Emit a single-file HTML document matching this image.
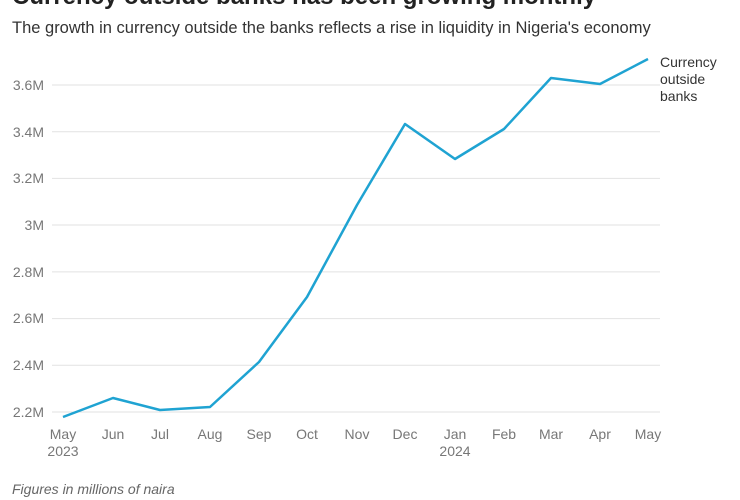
<!DOCTYPE html>
<html><head><style>
body{margin:0;width:740px;height:500px;background:#fff;overflow:hidden;font-family:"Liberation Sans",sans-serif;position:relative}
.t{position:absolute;left:12px;top:-17px;font-size:24px;font-weight:bold;color:#222;white-space:nowrap}
.s{position:absolute;left:12px;top:19px;font-size:16.5px;color:#333;white-space:nowrap}
.f{position:absolute;left:12px;top:481px;font-size:14px;font-style:italic;color:#666}
</style></head><body>
<div class="t">Currency outside banks has been growing monthly</div>
<div class="s">The growth in currency outside the banks reflects a rise in liquidity in Nigeria's economy</div>
<svg width="740" height="500" style="position:absolute;left:0;top:0" font-family="Liberation Sans, sans-serif" font-size="14" fill="#777">
<g stroke="#e2e2e2" stroke-width="1">
<line x1="52" x2="660" y1="85" y2="85"/><line x1="52" x2="660" y1="131.7" y2="131.7"/><line x1="52" x2="660" y1="178.4" y2="178.4"/><line x1="52" x2="660" y1="225" y2="225"/><line x1="52" x2="660" y1="271.9" y2="271.9"/><line x1="52" x2="660" y1="318.6" y2="318.6"/><line x1="52" x2="660" y1="365.3" y2="365.3"/><line x1="52" x2="660" y1="412" y2="412"/>
</g>
<g text-anchor="end">
<text x="44" y="90">3.6M</text><text x="44" y="137">3.4M</text><text x="44" y="183">3.2M</text><text x="44" y="230">3M</text><text x="44" y="277">2.8M</text><text x="44" y="323">2.6M</text><text x="44" y="370">2.4M</text><text x="44" y="417">2.2M</text>
</g>
<g text-anchor="middle">
<text x="63" y="439">May</text><text x="63" y="456">2023</text><text x="113" y="439">Jun</text><text x="160" y="439">Jul</text><text x="210" y="439">Aug</text><text x="259" y="439">Sep</text><text x="307" y="439">Oct</text><text x="357" y="439">Nov</text><text x="405" y="439">Dec</text><text x="455" y="439">Jan</text><text x="455" y="456">2024</text><text x="504" y="439">Feb</text><text x="551" y="439">Mar</text><text x="600" y="439">Apr</text><text x="648" y="439">May</text>
</g>
<polyline fill="none" stroke="#1fa3d2" stroke-width="2.5" stroke-linejoin="round" points="63,417 113,398 160,410 210,407 259,362 307,297 357,205 405,124 455,159 504,129 551,78 600,84 648,59"/>
<g fill="#333"><text x="660" y="67">Currency</text><text x="660" y="84">outside</text><text x="660" y="101">banks</text></g>
</svg>
<div class="f">Figures in millions of naira</div>
</body></html>
